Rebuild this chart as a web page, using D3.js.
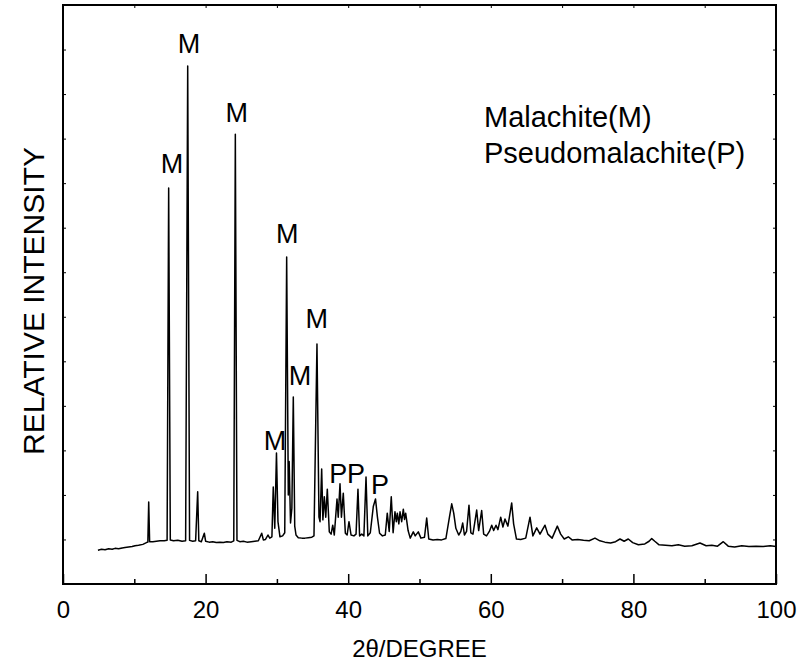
<!DOCTYPE html>
<html>
<head>
<meta charset="utf-8">
<script src="https://cdn.jsdelivr.net/npm/d3@7"></script>
<style>
  body { margin: 0; background: #fff; }
  text { font-family: "Liberation Sans", Arial, sans-serif; fill: #000; }
</style>
</head>
<body>
<div id="chart"></div>
<script>
// XRD pattern: malachite / pseudomalachite
const width = 801, height = 665, margin = {top: 5, right: 25, bottom: 81, left: 63};

// 2theta (degree) and relative intensity
const twoTheta = [4.9, 5.4, 5.9, 6.4, 6.9, 7.3, 7.8, 8.3, 8.7, 9.2, 9.7, 10.1, 10.6, 11.2, 11.7, 11.9, 12.02, 12.15,
  12.6, 13.1, 13.6, 14.2, 14.6, 14.82, 15.05, 15.5, 16.1, 16.7, 17.2, 17.49, 17.75, 18.2, 18.6, 18.89, 19.05, 19.4,
  19.82, 20.0, 20.5, 21.0, 21.5, 22.0, 22.5, 23.0, 23.6, 23.95, 24.17, 24.4, 24.8, 25.3, 25.8, 26.4, 26.9, 27.4,
  27.87, 28.1, 28.4, 28.75, 29.0, 29.3, 29.49, 29.7, 29.94, 30.15, 30.43, 30.8, 31.1, 31.37, 31.6, 31.72, 31.91,
  32.1, 32.3, 32.5, 32.68, 33.0, 33.5, 33.94, 34.4, 34.9, 35.2, 35.62, 35.9, 36.05, 36.28, 36.45, 36.65, 36.85,
  37.07, 37.35, 37.6, 37.83, 38.05, 38.43, 38.6, 38.85, 39.05, 39.31, 39.6, 39.85, 40.11, 40.4, 40.8, 41.1, 41.37,
  41.6, 41.9, 42.2, 42.5, 42.75, 43.1, 43.52, 43.83, 44.1, 44.4, 44.8, 45.2, 45.48, 45.75, 46.04, 46.3, 46.56,
  46.75, 46.89, 47.1, 47.27, 47.5, 47.73, 47.9, 48.06, 48.4, 48.7, 49.13, 49.4, 49.83, 50.2, 50.7, 51.01, 51.3,
  51.9, 52.5, 53.1, 53.7, 54.2, 54.52, 54.8, 55.1, 55.5, 55.8, 56.06, 56.3, 56.6, 56.94, 57.2, 57.5, 58.02, 58.3,
  58.72, 59.0, 59.4, 59.8, 60.13, 60.4, 60.73, 61.0, 61.39, 61.7, 61.99, 62.4, 62.93, 63.2, 63.6, 64.2, 64.9,
  65.5, 65.9, 66.44, 66.9, 67.6, 68.0, 68.6, 69.33, 69.8, 70.3, 70.87, 71.4, 72.2, 73.0, 73.8, 74.61, 75.3, 76.0,
  76.8, 77.5, 78.12, 78.7, 79.28, 79.9, 80.7, 81.6, 82.2, 82.57, 83.0, 83.6, 84.5, 85.4, 86.3, 87.2, 88.2, 89.34,
  90.2, 91.0, 91.8, 92.61, 93.3, 94.2, 95.2, 96.2, 97.2, 98.2, 99.2, 100];
const intensity = [76, 78, 77, 79, 78, 80, 79, 81, 82, 83, 84, 86, 87, 89, 93, 94, 184, 95,
  95, 96, 97, 97, 98, 889, 99, 97, 98, 96, 97, 1163, 98, 96, 97, 207, 97, 95,
  114, 96, 94, 95, 93, 94, 93, 95, 94, 97, 1010, 98, 95, 96, 94, 95, 96, 97,
  114, 99, 100, 110, 103, 106, 218, 125, 294, 140, 106, 108, 115, 734, 200, 275, 137,
  170, 420, 130, 110, 104, 103, 103, 104, 105, 108, 539, 150, 140, 258, 144, 196, 150,
  213, 117, 112, 132, 110, 191, 150, 225, 150, 204, 114, 110, 140, 110, 108, 112, 213,
  108, 112, 108, 240, 108, 115, 174, 191, 150, 114, 108, 110, 159, 118, 196, 115, 162,
  140, 159, 135, 162, 140, 168, 145, 159, 120, 103, 117, 108, 117, 103, 105, 148, 101,
  99, 100, 99, 102, 150, 180, 159, 125, 110, 118, 137, 110, 118, 177, 115, 112, 166, 120,
  165, 112, 108, 118, 132, 120, 132, 122, 150, 128, 146, 130, 182, 135, 101, 100, 103,
  150, 108, 126, 112, 132, 112, 103, 130, 112, 101, 106, 99, 100, 98, 97, 103, 97, 94,
  92, 95, 101, 96, 101, 93, 88, 90, 96, 102, 96, 88, 87, 86, 88, 85, 86, 92,
  86, 87, 85, 95, 85, 83, 86, 84, 85, 84, 86, 84];

// peak labels: text, 2theta, intensity (centre / baseline of the letter)
const peakText  = ["M", "M", "M", "M", "M", "M", "M", "P", "P", "P"];
const peakTheta = [15.29, 17.67, 24.36, 31.46, 35.58, 33.24, 29.73, 38.61, 41.09, 44.46];
const peakInt   = [923, 1192, 1037, 766, 575, 447, 301, 227, 227, 201];

const legendLines = ["Malachite(M)", "Pseudomalachite(P)"];
const majorTicks = [0, 20, 40, 60, 80, 100];
const minorTicks = [10, 30, 50, 70, 90];
const yTicks = d3.range(0, 1301, 100);

const svg = d3.select("#chart").append("svg")
  .attr("width", width).attr("height", height);

const x = d3.scaleLinear().domain([0, 100]).range([margin.left, width - margin.right]);
const y = d3.scaleLinear().domain([0, 1300]).range([height - margin.bottom, margin.top]);

const data = twoTheta.map((t, i) => ({t: t, v: intensity[i]}));

// bottom axis: labelled major ticks, short minor ticks
const xAxis = svg.append("g").attr("transform", `translate(0,${y(0)})`)
  .call(d3.axisBottom(x).tickValues(majorTicks).tickSize(-10).tickPadding(17).tickFormat(d3.format("d")));
xAxis.select(".domain").remove();
xAxis.selectAll("text").attr("font-size", 24).attr("font-family", null);
xAxis.selectAll("line").attr("stroke-width", 1.5);

const xMinor = svg.append("g").attr("transform", `translate(0,${y(0)})`)
  .call(d3.axisBottom(x).tickValues(minorTicks).tickSize(-5).tickFormat(""));
xMinor.select(".domain").remove();
xMinor.selectAll("line").attr("stroke-width", 1.5);

const xTop = svg.append("g").attr("transform", `translate(0,${y(1300)})`)
  .call(d3.axisTop(x).tickValues(d3.range(10, 100, 10)).tickSize(-3).tickFormat(""));
xTop.select(".domain").remove();

const yLeft = svg.append("g").attr("transform", `translate(${x(0)},0)`)
  .call(d3.axisLeft(y).tickValues(yTicks).tickSize(-3).tickFormat(""));
yLeft.select(".domain").remove();
const yRight = svg.append("g").attr("transform", `translate(${x(100)},0)`)
  .call(d3.axisRight(y).tickValues(yTicks).tickSize(-3).tickFormat(""));
yRight.select(".domain").remove();

// frame
svg.append("rect").attr("x", x(0)).attr("y", y(1300))
  .attr("width", x(100) - x(0)).attr("height", y(0) - y(1300))
  .attr("fill", "none").attr("stroke", "#000").attr("stroke-width", 2);

// pattern
const line = d3.line().x(d => x(d.t)).y(d => y(d.v));
svg.append("path").datum(data).attr("fill", "none").attr("stroke", "#000")
  .attr("stroke-width", 1.5).attr("stroke-linejoin", "round").attr("d", line);

// peak labels
svg.selectAll(".peak").data(peakText).join("text").attr("class", "peak")
  .attr("x", (d, i) => x(peakTheta[i])).attr("y", (d, i) => y(peakInt[i]))
  .attr("text-anchor", "middle").attr("font-size", 27).text(d => d);

// legend
svg.selectAll(".legend").data(legendLines).join("text").attr("class", "legend")
  .attr("x", 484).attr("y", (d, i) => 127 + i * 36)
  .attr("font-size", 29).text(d => d);

// axis titles
svg.append("text").attr("x", (x(0) + x(100)) / 2).attr("y", 657)
  .attr("text-anchor", "middle").attr("font-size", 24).text("2θ/DEGREE");
svg.append("text").attr("transform", "rotate(-90)").attr("x", -301).attr("y", 44)
  .attr("text-anchor", "middle").attr("font-size", 30).text("RELATIVE INTENSITY");
</script>
</body>
</html>
